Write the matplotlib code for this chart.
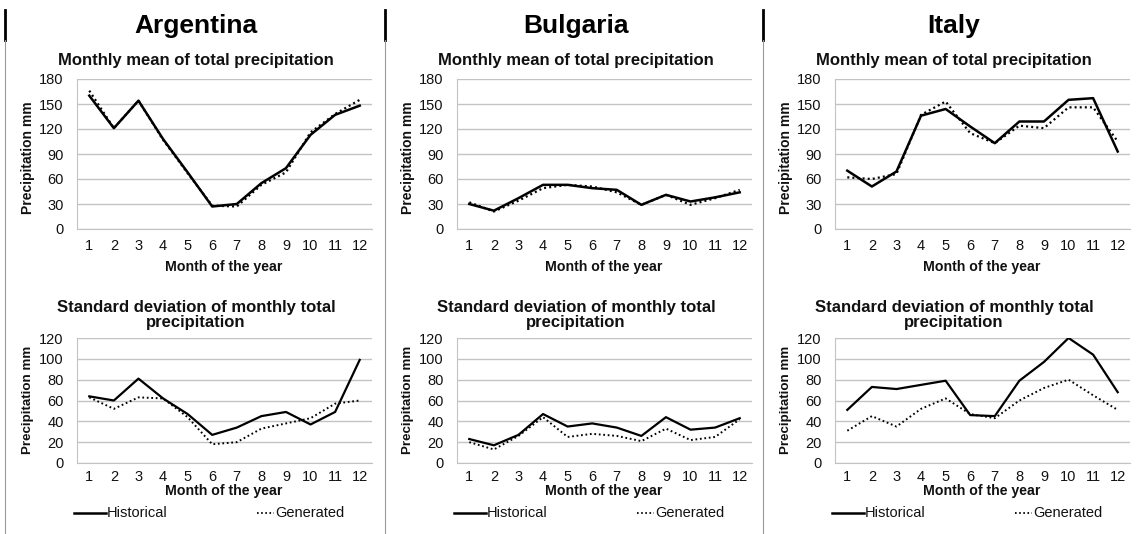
import matplotlib
matplotlib.use("Agg")
import matplotlib.pyplot as plt
from matplotlib.lines import Line2D

plt.rcParams['font.family'] = ['Liberation Sans', 'DejaVu Sans']

W, H = 1138, 534
months = list(range(1, 13))
month_labels = [str(m) for m in months]
countries = ["Argentina", "Bulgaria", "Italy"]

# Monthly mean of total precipitation (mm)
arg_mean_hist = [160, 121, 154, 108, 68, 27, 30, 55, 73, 113, 137, 148]
arg_mean_gen = [166, 121, 154, 107, 67, 28, 27, 53, 68, 116, 138, 155]
bul_mean_hist = [30, 22, 37, 53, 53, 49, 47, 29, 41, 33, 38, 44]
bul_mean_gen = [32, 21, 34, 49, 53, 51, 44, 29, 41, 29, 37, 47]
ita_mean_hist = [70, 51, 69, 136, 144, 123, 103, 129, 129, 155, 157, 93]
ita_mean_gen = [62, 60, 66, 137, 153, 115, 103, 124, 121, 146, 146, 105]

# Standard deviation of monthly total precipitation (mm)
arg_sd_hist = [64, 60, 81, 62, 47, 27, 34, 45, 49, 37, 49, 99]
arg_sd_gen = [63, 52, 63, 62, 44, 18, 20, 33, 38, 43, 57, 60]
bul_sd_hist = [23, 17, 27, 47, 35, 38, 34, 26, 44, 32, 34, 43]
bul_sd_gen = [20, 13, 26, 44, 25, 28, 26, 21, 33, 22, 25, 42]
ita_sd_hist = [51, 73, 71, 75, 79, 46, 45, 79, 97, 120, 104, 68]
ita_sd_gen = [31, 45, 35, 52, 62, 47, 43, 60, 72, 80, 65, 51]

mean_data = [(arg_mean_hist, arg_mean_gen), (bul_mean_hist, bul_mean_gen), (ita_mean_hist, ita_mean_gen)]
sd_data = [(arg_sd_hist, arg_sd_gen), (bul_sd_hist, bul_sd_gen), (ita_sd_hist, ita_sd_gen)]

mean_ticks = [0, 30, 60, 90, 120, 150, 180]
sd_ticks = [0, 20, 40, 60, 80, 100, 120]

fig = plt.figure(figsize=(W / 100, H / 100), dpi=100)


def fx(x):
    return x / W


def fy(y):
    return 1 - y / H


def make_axes(x0, x1, ytop, ybot):
    return fig.add_axes([fx(x0), fy(ybot), fx(x1 - x0), (ybot - ytop) / H])


grid_c = "#c3c3c3"
txt_c = "#111111"
dotted = (0, (0.9, 1.4))


def style(ax, ticks, xpad):
    ax.set_xlim(0.5, 12.5)
    ax.set_ylim(ticks[0], ticks[-1])
    ax.set_yticks(ticks)
    ax.set_xticks(months)
    ax.set_xticklabels(month_labels)
    ax.grid(axis='y', color=grid_c, lw=1)
    ax.set_axisbelow(True)
    for s in ["top", "right"]:
        ax.spines[s].set_visible(False)
    ax.spines["left"].set_color(grid_c)
    ax.spines["bottom"].set_color(grid_c)
    ax.tick_params(axis='both', length=0, labelsize=10.5, colors=txt_c)
    ax.tick_params(axis='y', pad=9.5)
    ax.tick_params(axis='x', pad=xpad)


offsets = [0, 380, 758]
for i, country in enumerate(countries):
    off = offsets[i]
    cx = off + 196
    # separator line
    fig.add_artist(Line2D([fx(off + 5), fx(off + 5)], [fy(10), fy(40)], color="black", lw=2))
    fig.add_artist(Line2D([fx(off + 5), fx(off + 5)], [fy(40), fy(534)], color="#9a9a9a", lw=0.8))
    fig.text(fx(cx), fy(26), country, ha="center", va="center", fontsize=19, fontweight="bold", color="black")

    # top panel
    ax = make_axes(off + 77, off + 372, 79, 229)
    hist, gen = mean_data[i]
    ax.plot(months, gen, color="black", lw=1.6, linestyle=dotted)
    ax.plot(months, hist, color="black", lw=1.8)
    style(ax, mean_ticks, 7.5)
    fig.text(fx(cx), fy(61), "Monthly mean of total precipitation", ha="center", va="center",
             fontsize=12, fontweight="bold", color=txt_c)
    fig.text(fx(off + 28), fy(158), "Precipitation mm", rotation=90, ha="center", va="center",
             fontsize=10, fontweight="bold", color=txt_c)
    fig.text(fx(off + 224), fy(267), "Month of the year", ha="center", va="center",
             fontsize=10.2, fontweight="bold", color=txt_c)

    # bottom panel
    ax2 = make_axes(off + 77, off + 372, 338, 463)
    hist, gen = sd_data[i]
    ax2.plot(months, gen, color="black", lw=1.4, linestyle=dotted)
    ax2.plot(months, hist, color="black", lw=1.6)
    style(ax2, sd_ticks, 5)
    fig.text(fx(cx), fy(315), "Standard deviation of monthly total\nprecipitation", ha="center",
             va="center", fontsize=12, fontweight="bold", color=txt_c, linespacing=0.95)
    fig.text(fx(off + 28), fy(400), "Precipitation mm", rotation=90, ha="center", va="center",
             fontsize=9.6, fontweight="bold", color=txt_c)
    fig.text(fx(off + 224), fy(491), "Month of the year", ha="center", va="center",
             fontsize=10.2, fontweight="bold", color=txt_c)

    # legend
    ly = 513
    fig.add_artist(Line2D([fx(off + 74), fx(off + 106)], [fy(ly), fy(ly)], color="black", lw=1.8))
    fig.text(fx(off + 107), fy(ly), "Historical", ha="left", va="center", fontsize=10.5, color=txt_c)
    fig.add_artist(Line2D([fx(off + 257), fx(off + 274)], [fy(ly), fy(ly)], color="black", lw=1.3,
                          linestyle=dotted))
    fig.text(fx(off + 275), fy(ly), "Generated", ha="left", va="center", fontsize=10.5, color=txt_c)

fig.savefig("out.png", dpi=100, facecolor="white")
